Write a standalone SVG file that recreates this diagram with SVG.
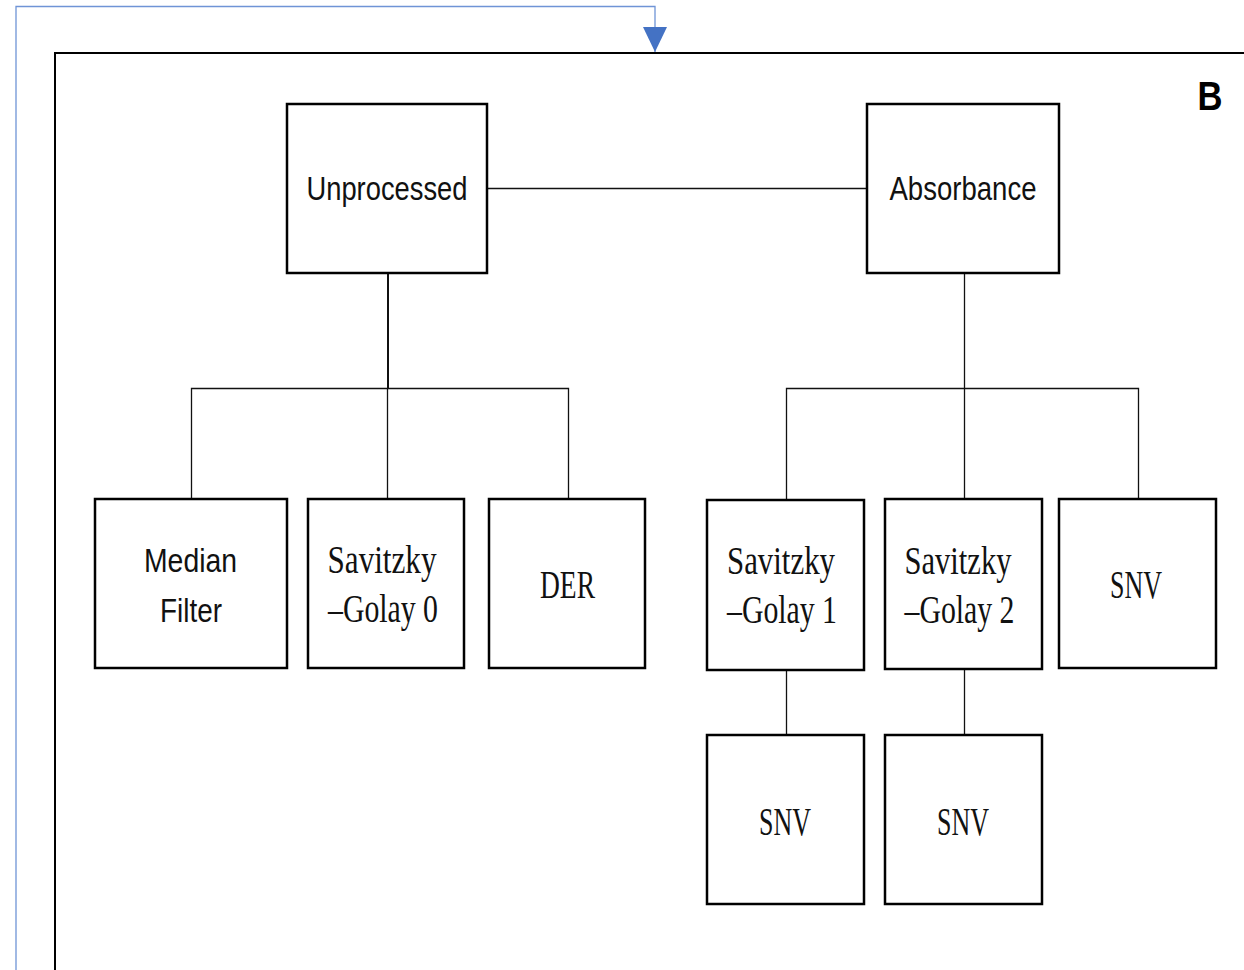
<svg xmlns="http://www.w3.org/2000/svg" width="1244" height="970" viewBox="0 0 1244 970">
  <style>
    .box { fill: #ffffff; stroke: #000000; stroke-width: 2.5; }
    .link { fill: none; stroke: #111111; stroke-width: 1.3; }
    .sans { font-family: "Liberation Sans", "DejaVu Sans", sans-serif; font-size: 34px; fill: #111111; text-anchor: middle; }
    .serif { font-family: "Liberation Serif", "DejaVu Serif", serif; font-size: 39px; fill: #111111; text-anchor: middle; }
  </style>
  <defs>
    <marker id="arrow" markerWidth="24" markerHeight="26" refX="12" refY="25" orient="0" markerUnits="userSpaceOnUse">
      <path d="M0,0 L24,0 L12,25 Z" fill="#4472C4"/>
    </marker>
  </defs>
  <rect width="1244" height="970" fill="#ffffff"/>

  <!-- incoming feedback line -->
  <g id="feedback">
    <polyline points="16,970 16,6.5 655,6.5 655,52" fill="none" stroke="#6f94d6" stroke-width="1.3" marker-end="url(#arrow)"/>
  </g>

  <!-- panel frame -->
  <g id="panel">
    <polyline points="55,970 55,53 1244,53" fill="none" stroke="#000000" stroke-width="2"/>
    <text x="1210" y="110" font-family="Liberation Sans, DejaVu Sans, sans-serif" font-size="40" font-weight="bold" fill="#000" text-anchor="middle" textLength="25" lengthAdjust="spacingAndGlyphs">B</text>
  </g>

  <!-- connectors -->
  <g id="connectors">
    <line class="link" x1="487" y1="188.5" x2="867" y2="188.5"/>
    <line x1="388" y1="273" x2="388" y2="388" stroke="#111" stroke-width="2"/>
    <polyline class="link" points="191.5,499 191.5,388.5 568.5,388.5 568.5,499"/>
    <line class="link" x1="387.5" y1="388" x2="387.5" y2="499"/>
    <line class="link" x1="964.5" y1="273" x2="964.5" y2="499"/>
    <polyline class="link" points="786.5,500 786.5,388.5 1138.5,388.5 1138.5,499"/>
    <line class="link" x1="786.5" y1="670" x2="786.5" y2="735"/>
    <line class="link" x1="964.5" y1="669" x2="964.5" y2="735"/>
  </g>

  <g id="unprocessed">
    <rect class="box" x="287" y="104" width="200" height="169"/>
    <text class="sans" x="387" y="200" textLength="161" lengthAdjust="spacingAndGlyphs">Unprocessed</text>
  </g>
  <g id="absorbance">
    <rect class="box" x="867" y="104" width="192" height="169"/>
    <text class="sans" x="963" y="200" textLength="147" lengthAdjust="spacingAndGlyphs">Absorbance</text>
  </g>

  <g id="median-filter">
    <rect class="box" x="95" y="499" width="192" height="169"/>
    <text class="sans" x="190.5" y="572" textLength="93" lengthAdjust="spacingAndGlyphs">Median</text>
    <text class="sans" x="191" y="622" textLength="62" lengthAdjust="spacingAndGlyphs">Filter</text>
  </g>
  <g id="savitzky-golay-0">
    <rect class="box" x="308" y="499" width="156" height="169"/>
    <text class="serif" x="382" y="573" textLength="109" lengthAdjust="spacingAndGlyphs">Savitzky</text>
    <text class="serif" x="383" y="622" textLength="110" lengthAdjust="spacingAndGlyphs">–Golay 0</text>
  </g>
  <g id="der">
    <rect class="box" x="489" y="499" width="156" height="169"/>
    <text class="serif" x="567.5" y="598" textLength="55" lengthAdjust="spacingAndGlyphs">DER</text>
  </g>

  <g id="savitzky-golay-1">
    <rect class="box" x="707" y="500" width="157" height="170"/>
    <text class="serif" x="781" y="574" textLength="108" lengthAdjust="spacingAndGlyphs">Savitzky</text>
    <text class="serif" x="782" y="623" textLength="110" lengthAdjust="spacingAndGlyphs">–Golay 1</text>
  </g>
  <g id="savitzky-golay-2">
    <rect class="box" x="885" y="499" width="157" height="170"/>
    <text class="serif" x="958" y="574" textLength="107" lengthAdjust="spacingAndGlyphs">Savitzky</text>
    <text class="serif" x="959.5" y="623" textLength="110" lengthAdjust="spacingAndGlyphs">–Golay 2</text>
  </g>
  <g id="snv-absorbance">
    <rect class="box" x="1059" y="499" width="157" height="169"/>
    <text class="serif" x="1136" y="598" textLength="52" lengthAdjust="spacingAndGlyphs">SNV</text>
  </g>

  <g id="snv-sg1">
    <rect class="box" x="707" y="735" width="157" height="169"/>
    <text class="serif" x="785" y="835" textLength="52" lengthAdjust="spacingAndGlyphs">SNV</text>
  </g>
  <g id="snv-sg2">
    <rect class="box" x="885" y="735" width="157" height="169"/>
    <text class="serif" x="963" y="835" textLength="52" lengthAdjust="spacingAndGlyphs">SNV</text>
  </g>
</svg>
